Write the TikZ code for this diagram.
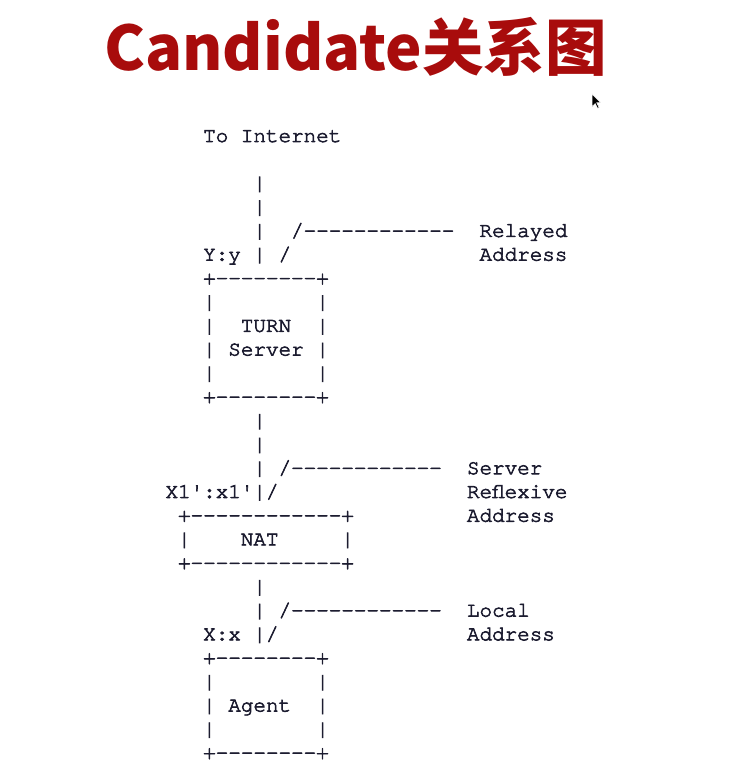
\documentclass[tikz,border=0pt]{standalone}
\usepackage{fontspec}
\setmonofont{texgyrecursor-regular.otf}[FakeBold=3]
\newfontfamily\titlefont{Noto Sans CJK SC}
\definecolor{titlered}{HTML}{A80C0C}
\definecolor{asciiink}{HTML}{1C1C30}

\begin{document}
\begin{tikzpicture}[
  x=1pt, y=-1pt,
  title/.style={anchor=base west, inner sep=0pt, text=titlered, font=\titlefont\bfseries\fontsize{61.5}{70}\selectfont},
  ascii/.style={anchor=base west, inner sep=0pt, text=asciiink, font=\ttfamily\fontsize{20.93}{23.7}\selectfont}
]
\useasboundingbox (0,0) rectangle (749,775);
\node[title] (title) at (104,71) {Candidate关系图};

% mouse pointer left in the screenshot
\begin{scope}[shift={(592,94)}, x=0.8pt, y=-0.8pt]
  \filldraw[fill=black, draw=white, line width=0.6pt]
    (0,0) -- (0,16) -- (4,12) -- (7,18) -- (9,17) -- (6,11) -- (11,11) -- cycle;
\end{scope}

% the ASCII figure, one text line per node (column, row)
\begin{scope}[shift={(-10.52,142)}, x=12.56pt, y=-23.73pt]
\node[ascii] (toinet)     at (17,0)  {To Internet};
\node[ascii] (wireA)      at (21,2)  {|};
\node[ascii] (wireB)      at (21,3)  {|};
\node[ascii] (relayleg)   at (21,4)  {|~~/------------};
\node[ascii] (relaylbl)   at (39,4)  {Relayed};
\node[ascii] (yport)      at (17,5)  {Y:y~|~/};
\node[ascii] (relayaddr)  at (39,5)  {Address};
\node[ascii] (turntop)    at (17,6)  {+--------+};
\node[ascii] (turnA)      at (17,7)  {|~~~~~~~~|};
\node[ascii] (turnB)      at (17,8)  {|~~TURN~~|};
\node[ascii] (turnC)      at (17,9)  {|~Server~|};
\node[ascii] (turnD)      at (17,10) {|~~~~~~~~|};
\node[ascii] (turnbot)    at (17,11) {+--------+};
\node[ascii] (wireC)      at (21,12) {|};
\node[ascii] (wireD)      at (21,13) {|};
\node[ascii] (srflxleg)   at (21,14) {|~/------------};
\node[ascii] (srflxlbl)   at (38,14) {Server};
\node[ascii] (xport)      at (14,15) {X1':x1'|/};
\node[ascii] (srflxlblB)  at (38,15) {Reflexive};
\node[ascii] (nattop)     at (15,16) {+------------+};
\node[ascii] (srflxaddr)  at (38,16) {Address};
\node[ascii] (natmid)     at (15,17) {|~~~~NAT~~~~~|};
\node[ascii] (natbot)     at (15,18) {+------------+};
\node[ascii] (wireE)      at (21,19) {|};
\node[ascii] (localleg)   at (21,20) {|~/------------};
\node[ascii] (locallbl)   at (38,20) {Local};
\node[ascii] (xlocal)     at (17,21) {X:x~|/};
\node[ascii] (localaddr)  at (38,21) {Address};
\node[ascii] (agenttop)   at (17,22) {+--------+};
\node[ascii] (agentA)     at (17,23) {|~~~~~~~~|};
\node[ascii] (agentB)     at (17,24) {|~Agent~~|};
\node[ascii] (agentC)     at (17,25) {|~~~~~~~~|};
\node[ascii] (agentbot)   at (17,26) {+--------+};
\end{scope}
\end{tikzpicture}
\end{document}
